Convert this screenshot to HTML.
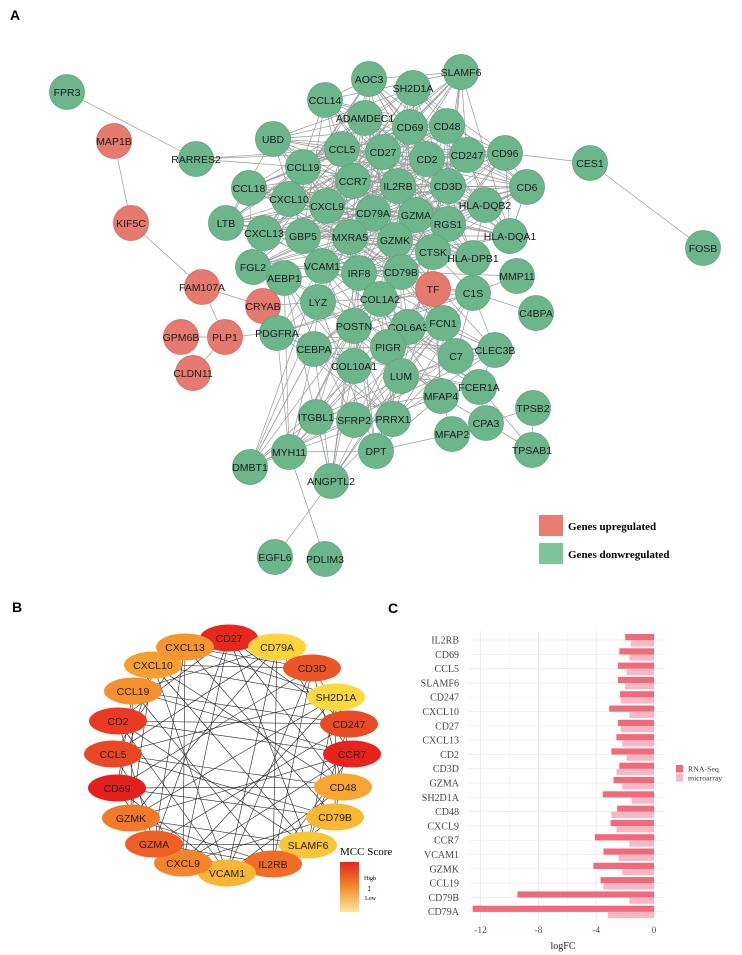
<!DOCTYPE html>
<html><head><meta charset="utf-8">
<style>
body{margin:0;background:#fff;width:742px;height:955px;overflow:hidden}
svg{position:absolute;left:0;top:0}
.panel{font-family:"Liberation Sans",sans-serif;font-weight:bold;font-size:14px;fill:#000}
</style></head>
<body>
<svg id="fig" width="742" height="955" viewBox="0 0 742 955">
<text class="panel" x="10" y="20">A</text>
<text class="panel" x="12" y="612">B</text>
<text class="panel" x="388" y="613">C</text>
<g id="netA"></g>
<g id="legA">
<rect x="539" y="515" width="24" height="21" fill="#e87b72"/>
<text x="568" y="530" font-family="Liberation Serif,serif" font-weight="bold" font-size="11">Genes upregulated</text>
<rect x="539" y="543" width="24" height="21" fill="#7fc59a"/>
<text x="568" y="558" font-family="Liberation Serif,serif" font-weight="bold" font-size="11">Genes donwregulated</text>
</g>
<g id="netB"></g>
<g>
<text x="340" y="855" font-family="Liberation Serif,serif" font-size="11">MCC Score</text>
<defs><linearGradient id="mg" x1="0" y1="0" x2="0" y2="1"><stop offset="0" stop-color="#e3261f"/><stop offset="0.5" stop-color="#f18a2c"/><stop offset="1" stop-color="#fde7a0"/></linearGradient></defs>
<rect x="340" y="862" width="19" height="50" fill="url(#mg)"/>
<text x="364" y="880" font-family="Liberation Serif,serif" font-size="6">High</text>
<text x="367" y="891" font-family="Liberation Sans,sans-serif" font-size="9">↕</text>
<text x="365" y="900" font-family="Liberation Serif,serif" font-size="6">Low</text>
</g>
<g id="chartC"></g>
</svg>
<script>
const NS='http://www.w3.org/2000/svg';
function mk(tag,attrs,parent){const e=document.createElementNS(NS,tag);for(const k in attrs)e.setAttribute(k,attrs[k]);parent.appendChild(e);return e;}

/* ---------- Panel A network ---------- */
const nodesA=[
['FPR3',67,92,0],['MAP1B',114,141,1],['KIF5C',131,223,1],['RARRES2',196,159,0],
['AOC3',369,79,0],['SLAMF6',461,72,0],['SH2D1A',413,88,0],['CCL14',325,100,0],
['ADAMDEC1',365,118,0],['CD69',410,127,0],['CD48',447,126,0],['UBD',273,139,0],
['CCL5',342,149,0],['CD27',383,152,0],['CD2',427,159,0],['CD247',467,155,0],
['CD96',505,153,0],['CCL19',303,167,0],['CCR7',353,181,0],['IL2RB',398,186,0],
['CD3D',448,186,0],['CD6',527,187,0],['CCL18',249,188,0],['CXCL10',289,199,0],
['CXCL9',327,206,0],['CD79A',373,213,0],['GZMA',416,215,0],['HLA-DQB2',485,205,0],
['RGS1',448,224,0],['LTB',226,223,0],['CXCL13',264,233,0],['GBP5',303,236,0],
['MXRA5',350,237,0],['GZMK',395,240,0],['HLA-DQA1',510,236,0],['CTSK',433,252,0],
['HLA-DPB1',473,258,0],['FGL2',253,267,0],['VCAM1',322,266,0],['AEBP1',284,278,0],
['IRF8',359,273,0],['CD79B',401,272,0],['MMP11',517,276,0],['TF',433,289,1],
['C1S',473,293,0],['COL1A2',380,299,0],['LYZ',318,302,0],['CRYAB',263,306,1],
['FAM107A',202,287,1],['C4BPA',536,313,0],['POSTN',354,326,0],['COL6A3',408,327,0],
['FCN1',443,323,0],['PDGFRA',277,333,0],['GPM6B',181,337,1],['PLP1',225,337,1],
['PIGR',388,347,0],['CEBPA',314,349,0],['C7',456,356,0],['CLEC3B',495,350,0],
['COL10A1',354,366,0],['CLDN11',193,373,1],['LUM',401,376,0],['FCER1A',479,387,0],
['MFAP4',441,396,0],['TPSB2',533,408,0],['ITGBL1',316,417,0],['SFRP2',354,420,0],
['PRRX1',393,419,0],['CPA3',486,423,0],['MFAP2',452,434,0],['TPSAB1',532,450,0],
['DPT',376,451,0],['MYH11',289,452,0],['DMBT1',250,467,0],['ANGPTL2',331,481,0],
['EGFL6',275,557,0],['PDLIM3',325,559,0],['CES1',590,163,0],['FOSB',703,248,0]];
const P={};nodesA.forEach(n=>P[n[0]]=n);
const immune=['SLAMF6','SH2D1A','CD69','CD48','CCL5','CD27','CD2','CD247','CD96','CCL19','CCR7','IL2RB','CD3D','CD6','CCL18','CXCL10','CXCL9','CD79A','GZMA','HLA-DQB2','RGS1','LTB','CXCL13','GBP5','GZMK','HLA-DQA1','HLA-DPB1','VCAM1','IRF8','CD79B','CCL14','ADAMDEC1','AOC3','UBD','FGL2','CTSK','MXRA5'];
const ecm=['COL1A2','POSTN','COL6A3','COL10A1','PIGR','LUM','SFRP2','PRRX1','DPT','ITGBL1','MYH11','DMBT1','CEBPA','ANGPTL2','PDGFRA','LYZ','AEBP1','MXRA5','IRF8','VCAM1','CD79B','GZMK','CTSK','FCN1','MFAP4','C7','CLEC3B','FCER1A','TF','C1S'];
const edgesA=[['FPR3','RARRES2'],['MAP1B','KIF5C'],['KIF5C','FAM107A'],['FAM107A','CRYAB'],['FAM107A','PLP1'],['GPM6B','PLP1'],['PLP1','CLDN11'],['PLP1','PDGFRA'],['CRYAB','LYZ'],['RARRES2','CCL19'],['RARRES2','CD27'],['RARRES2','CCL5'],['CES1','CD96'],['CES1','FOSB'],['EGFL6','ANGPTL2'],['PDLIM3','MYH11'],['TPSB2','CPA3'],['TPSB2','TPSAB1'],['CPA3','TPSAB1'],['MFAP4','TPSAB1'],['FCER1A','TPSAB1'],['MFAP2','DPT'],['MFAP4','MFAP2'],['MFAP4','CPA3'],['C4BPA','C1S'],['C1S','MMP11'],['FCER1A','CPA3'],['CD79B','MMP11'],['TF','C1S'],['DMBT1','CEBPA'],['DMBT1','POSTN'],['MYH11','CEBPA'],['ANGPTL2','COL10A1'],['ANGPTL2','POSTN'],['CLEC3B','LUM'],['C7','C1S'],['CD6','HLA-DQA1'],['CD6','CD3D'],['CD6','CD2'],['CD6','CD247'],['CD6','HLA-DQB2']];
for(let i=0;i<immune.length;i++)for(let j=i+1;j<immune.length;j++){if((i*7+j*3)%5<2)edgesA.push([immune[i],immune[j]]);}
for(let i=0;i<ecm.length;i++)for(let j=i+1;j<ecm.length;j++){if((i*5+j*3)%7<2)edgesA.push([ecm[i],ecm[j]]);}
const gA=document.getElementById('netA');
edgesA.forEach(e=>{const a=P[e[0]],b=P[e[1]];if(!a||!b)return;
 const l=mk('line',{x1:a[1],y1:a[2],x2:b[1],y2:b[2],stroke:'#9a9a9a','stroke-width':0.7},gA);
 
 });
nodesA.forEach(n=>{const g=mk('g',{},gA);
 
 
 mk('circle',{cx:n[1],cy:n[2],r:17.5,fill:n[3]?'#e57b70':'#6db58b',stroke:n[3]?'#cf675d':'#5da47b','stroke-width':0.8},g);
 const t=mk('text',{x:n[1],y:n[2]+3.8,'text-anchor':'middle','font-family':'Liberation Sans,sans-serif','font-size':10.5,fill:'#1a1a1a'},g);t.textContent=n[0];});

/* ---------- Panel B ---------- */
const nodesB=[['CD27',229,638,'#e8281e'],['CD79A',277,647,'#fdd53a'],['CD3D',312,668,'#ec5626'],['SH2D1A',336,697,'#fdd93c'],['CD247',349,724,'#ea4a24'],['CCR7',352,754,'#e8231d'],['CD48',343,787,'#f7a632'],['CD79B',335,817,'#f9b834'],['SLAMF6',308,845,'#fbc538'],['IL2RB',273,864,'#f06d28'],['VCAM1',227,873,'#f9b635'],['CXCL9',183,863,'#f3862c'],['GZMA',154,844,'#ee5e26'],['GZMK',131,818,'#f07a2a'],['CD69',117,788,'#e4211c'],['CCL5',113,754,'#ea4824'],['CD2',118,721,'#e83b22'],['CCL19',133,691,'#f4902e'],['CXCL10',153,665,'#f6a030'],['CXCL13',185,647,'#f5972e']];
const gB=document.getElementById('netB');const N=nodesB.length;
for(let i=0;i<N;i++)for(let j=i+1;j<N;j++){const d=j-i;if(d<2||d>N-2)continue;if((i*3+j*5)%4===0||(i+j)%5===1){
 const a=nodesB[i],b=nodesB[j];
 const l=mk('line',{x1:a[1],y1:a[2],x2:b[1],y2:b[2],stroke:'#222','stroke-width':0.6},gB);
 
 }}
nodesB.forEach(n=>{const g=mk('g',{},gB);
 
 
 mk('ellipse',{cx:n[1],cy:n[2],rx:29,ry:13.5,fill:n[3]},g);
 const t=mk('text',{x:n[1],y:n[2]+3.8,'text-anchor':'middle','font-family':'Liberation Sans,sans-serif','font-size':10.5,fill:'#2a1a10'},g);t.textContent=n[0];});

/* ---------- Panel C chart ---------- */
const genes=['IL2RB','CD69','CCL5','SLAMF6','CD247','CXCL10','CD27','CXCL13','CD2','CD3D','GZMA','SH2D1A','CD48','CXCL9','CCR7','VCAM1','GZMK','CCL19','CD79B','CD79A'];
const rnaSeq=[-2.0,-2.4,-2.5,-2.5,-2.35,-3.1,-2.5,-2.6,-2.95,-2.4,-2.8,-3.55,-2.55,-3.0,-4.1,-3.5,-4.2,-3.7,-9.45,-12.55];
const microarray=[-1.6,-1.7,-1.9,-2.0,-2.3,-1.7,-2.3,-2.2,-1.9,-2.6,-2.2,-1.55,-2.95,-2.6,-1.7,-2.45,-2.2,-3.5,-1.7,-3.2];
const xTicks=[-12,-8,-4,0];
const xMinor=[-10,-6,-2];
const gC=document.getElementById('chartC');
const xs=v=>654+v*14.45;
const ys=i=>640+i*14.3;
const plotL=xs(-12.8),plotR=xs(0.7);
xMinor.forEach(v=>{const l=mk('line',{x1:xs(v),x2:xs(v),y1:ys(0)-9,y2:ys(19)+9,stroke:'#f1f1f1','stroke-width':0.6},gC);
 });
xTicks.forEach(v=>{const l=mk('line',{x1:xs(v),x2:xs(v),y1:ys(0)-9,y2:ys(19)+9,stroke:'#e6e6e6','stroke-width':0.8},gC);
 
 const t=mk('text',{x:xs(v),y:933,'text-anchor':'middle','font-family':'Liberation Serif,serif','font-size':9.5,fill:'#555'},gC);
 t.textContent=v;});
genes.forEach((g,i)=>{const y=ys(i);
 const gl=mk('line',{x1:plotL,x2:plotR,y1:y,y2:y,stroke:'#ececec','stroke-width':0.7},gC);
 
 const b1=mk('rect',{x:xs(rnaSeq[i]),y:y-6,width:xs(0)-xs(rnaSeq[i]),height:6.2,fill:'#f06a7b'},gC);
 
 const b2=mk('rect',{x:xs(microarray[i]),y:y+0.2,width:xs(0)-xs(microarray[i]),height:6.2,fill:'#f7b8c5'},gC);
 
 const t=mk('text',{x:459,y:y+3.5,'text-anchor':'end','font-family':'Liberation Serif,serif','font-size':10,fill:'#444'},gC);
 t.textContent=g;});
const xt=mk('text',{x:563,y:949,'text-anchor':'middle','font-family':'Liberation Serif,serif','font-size':10,fill:'#222'},gC);
xt.textContent='logFC';
[['RNA-Seq','#f06a7b',769],['microarray','#f7b8c5',778]].forEach((L,k)=>{
 const r=mk('rect',{x:676,y:L[2]-4,width:7,height:7.5,fill:L[1]},gC);
 
 const t=mk('text',{x:688,y:L[2]+2.5,'font-family':'Liberation Serif,serif','font-size':7.8,fill:'#333'},gC);
 t.textContent=L[0];});
</script>
</body></html>
